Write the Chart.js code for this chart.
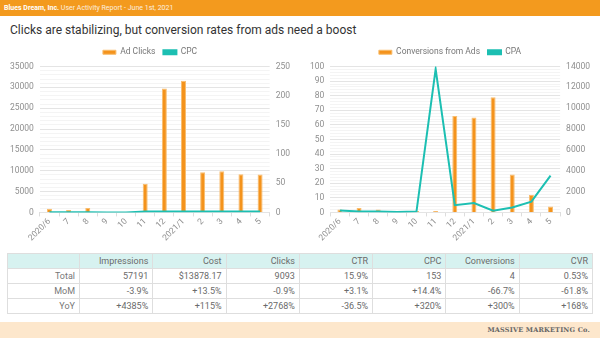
<!DOCTYPE html>
<html>
<head>
<meta charset="utf-8">
<script src="https://cdn.jsdelivr.net/npm/chart.js@4.4.1/dist/chart.umd.min.js"></script>
<style>
  html, body { margin: 0; padding: 0; }
  body { width: 600px; height: 338px; position: relative; overflow: hidden; background: #fff; font-family: Roboto, sans-serif; }
  .topbar { position: absolute; left: 0; top: 0; width: 600px; height: 16px; background: #f39a1e; color: #fff; font-size: 7px; line-height: 16px; padding-left: 4px; box-sizing: border-box; }
  .topbar b { font-weight: 700; }
  .topbar span { opacity: 0.85; }
  .title { position: absolute; left: 10px; top: 23px; font-size: 12px; color: #333; }
  .chartbox { position: absolute; top: 40px; width: 300px; height: 203px; }
  table { position: absolute; left: 7px; top: 253px; width: 586px; border-collapse: collapse; font-size: 9px; color: #6a6a6a; table-layout: fixed; }
  td, th { border: 1px solid #dedede; text-align: right; padding: 0 4px; height: 14px; font-weight: normal; }
  th { background: #d7f2f0; height: 14px; }
  tbody td:first-child { color: #777; }
  .footer { position: absolute; left: 0; top: 322px; width: 600px; height: 16px; background: #fde7cc; }
  .footer div { position: absolute; right: 10px; top: 4px; font-family: "DejaVu Serif", "Liberation Serif", serif; font-weight: bold; font-size: 6.5px; color: #666; letter-spacing: 0.2px; }
</style>
</head>
<body>
<div class="topbar"><b>Blues Dream, Inc.</b> <span>User Activity Report - June 1st, 2021</span></div>
<div class="title">Clicks are stabilizing, but conversion rates from ads need a boost</div>
<div class="chartbox" style="left:0"><canvas id="clicksChart"></canvas></div>
<div class="chartbox" style="left:300px"><canvas id="convChart"></canvas></div>
<table id="summary"></table>
<div class="footer"><div>MASSIVE MARKETING Co.</div></div>

<script>
var months = ['2020/6', '7', '8', '9', '10', '11', '12', '2021/1', '2', '3', '4', '5'];
var adClicks = [880, 560, 1040, 0, 0, 6900, 29700, 31600, 9630, 9870, 9176, 9093];
var cpc = [0.5, 0.5, 0.5, 0, 0, 1.6, 1.5, 1.5, 1.6, 1.5, 1.6, 1.6];
var conversions = [2, 3, 2, 0, 1, 1, 66, 65, 79, 26, 12, 4];
var cpa = [190, 100, 100, 30, 100, 13750, 700, 900, 160, 480, 1030, 3530];

var tableHead = ['', 'Impressions', 'Cost', 'Clicks', 'CTR', 'CPC', 'Conversions', 'CVR'];
var tableRows = [
    ['Total', '57191', '$13878.17', '9093', '15.9%', '153', '4', '0.53%'],
    ['MoM', '-3.9%', '+13.5%', '-0.9%', '+3.1%', '+14.4%', '-66.7%', '-61.8%'],
    ['YoY', '+4385%', '+115%', '+2768%', '-36.5%', '+320%', '+300%', '+168%']
];

var orange = '#f4931c';
var teal = '#1cbfb2';
var tickColor = '#8f8f8f';

// summary table
var html = '<colgroup><col style="width:72px">';
for (var i = 1; i < tableHead.length; i++) html += '<col>';
html += '</colgroup><thead><tr>';
tableHead.forEach(function (h) { html += '<th>' + h + '</th>'; });
html += '</tr></thead><tbody>';
tableRows.forEach(function (r) {
    html += '<tr>' + r.map(function (c) { return '<td>' + c + '</td>'; }).join('') + '</tr>';
});
html += '</tbody>';
document.getElementById('summary').innerHTML = html;

Chart.defaults.font.family = 'Roboto, sans-serif';
Chart.defaults.font.size = 8.5;
Chart.defaults.color = tickColor;

function comboChart(id, barLabel, barData, lineLabel, lineData, left, right) {
    var ctx = document.getElementById(id).getContext('2d');
    return new Chart(ctx, {
        type: 'bar',
        data: {
            labels: months,
            datasets: [{
                label: barLabel,
                data: barData,
                backgroundColor: orange,
                borderColor: '#f8bd6e',
                borderWidth: 1,
                barPercentage: 0.26,
                categoryPercentage: 1,
                yAxisID: 'y',
                order: 2
            }, {
                type: 'line',
                label: lineLabel,
                data: lineData,
                borderColor: teal,
                backgroundColor: teal,
                borderWidth: 2,
                pointRadius: 0,
                tension: 0,
                yAxisID: 'y1',
                order: 1
            }]
        },
        options: {
            responsive: true,
            maintainAspectRatio: false,
            animation: false,
            layout: { padding: { left: 4, right: 4, top: 0, bottom: 0 } },
            plugins: {
                legend: {
                    labels: {
                        boxWidth: 13, boxHeight: 4, padding: 8, color: '#777', font: { size: 8.5 },
                        sort: function (a, b) { return a.datasetIndex - b.datasetIndex; }
                    }
                },
                tooltip: { enabled: false }
            },
            scales: {
                x: {
                    grid: { drawOnChartArea: false, drawTicks: true, tickLength: 4, color: '#ddd' },
                    border: { display: false },
                    ticks: { maxRotation: 45, minRotation: 45, autoSkip: false, padding: 0 }
                },
                y: {
                    position: 'left',
                    min: 0, max: left.max,
                    border: { display: false },
                    grid: {
                        drawTicks: false,
                        color: function (c) { return c.tick.value % left.major === 0 ? '#e4e4e4' : '#f4f4f4'; }
                    },
                    ticks: {
                        stepSize: left.minor, maxTicksLimit: 500, autoSkip: false, padding: 6,
                        callback: function (v) { return v % left.major === 0 ? v : ''; }
                    }
                },
                y1: {
                    position: 'right',
                    min: 0, max: right.max,
                    border: { display: false },
                    grid: { drawOnChartArea: false, drawTicks: false },
                    ticks: { stepSize: right.step, padding: 6, callback: function (v) { return v; } }
                }
            }
        }
    });
}

comboChart('clicksChart', 'Ad Clicks', adClicks, 'CPC', cpc,
    { max: 35000, major: 5000, minor: 1000 }, { max: 250, step: 50 });
comboChart('convChart', 'Conversions from Ads', conversions, 'CPA', cpa,
    { max: 100, major: 10, minor: 2 }, { max: 14000, step: 2000 });
</script>
</body>
</html>
